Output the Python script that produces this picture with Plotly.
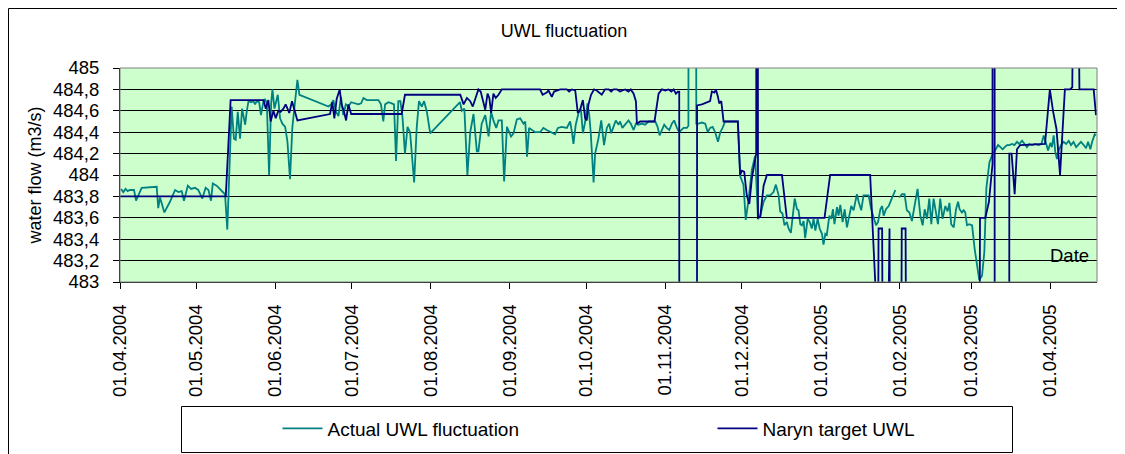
import pandas as pd
import plotly.graph_objects as go

START = pd.Timestamp("2004-04-01")

# ---- Actual UWL fluctuation: days since 01.04.2004 and level ----
actual_day = [
    0.4, 1.3, 2.2, 3.0, 3.9, 4.8, 5.5, 6.3, 7.2, 8.5, 14.4, 15.0, 15.7, 17.4, 19.6, 21.6, 22.9, 24.2,
    25.1, 26.6, 27.9, 29.4, 30.7, 32.3, 33.6, 34.7, 35.7, 36.4, 37.9, 39.6, 41.2, 42.1, 43.8, 44.7,
    45.4, 46.2, 47.1, 47.9, 49.1, 49.7, 50.4, 51.4, 52.3, 53.0, 53.6, 54.6, 55.3, 56.3, 56.9, 57.6,
    58.5, 59.3, 59.8, 60.6, 61.9, 62.8, 63.7, 64.8, 65.7, 66.7, 67.6, 68.7, 69.6, 70.4, 81.8, 82.8,
    83.7, 84.8, 85.7, 86.7, 87.6, 88.6, 89.6, 90.7, 92.2, 93.5, 94.6, 95.5, 96.8, 98.8, 101.4, 102.4,
    103.3, 104.0, 105.3, 106.6, 107.5, 108.3, 109.2, 110.0, 110.8, 111.8, 112.8, 113.8, 115.4, 116.4,
    117.3, 118.4, 119.3, 120.4, 121.7, 133.4, 134.1, 135.1, 136.3, 137.4, 138.7, 140.0, 140.6, 141.9,
    143.3, 144.6, 145.6, 146.5, 147.6, 148.5, 149.8, 150.7, 151.8, 152.7, 153.4, 154.4, 155.7, 157.0,
    158.3, 159.0, 159.7, 160.5, 161.5, 162.9, 164.8, 166.1, 167.4, 168.8, 170.7, 171.8, 173.3, 175.3,
    176.6, 177.3, 177.9, 178.8, 179.9, 180.8, 181.6, 182.5, 183.4, 184.1, 184.7, 185.8, 186.4, 187.7,
    188.8, 189.9, 191.0, 191.9, 192.7, 193.6, 194.5, 195.6, 196.2, 197.1, 198.2, 199.5, 200.4, 201.5,
    202.4, 203.4, 204.7, 206.0, 207.4, 208.7, 210.0, 210.9, 211.7, 212.6, 213.5, 214.5, 215.5, 216.5,
    217.4, 218.5, 219.4, 220.2, 221.1, 222.4, 223.0, 223.2, 225.8, 226.1, 227.0, 228.3, 229.6, 230.6,
    231.5, 232.5, 233.5, 234.6, 235.5, 236.4, 237.4, 242.4, 243.3, 244.6, 245.5, 246.6, 247.9, 249.2,
    250.3, 251.2, 252.5, 253.8, 255.1, 256.4, 257.3, 258.4, 259.0, 259.9, 260.7, 261.6, 262.3, 263.2,
    263.9, 264.7, 265.6, 266.2, 266.9, 267.5, 268.2, 268.8, 269.8, 270.6, 271.4, 272.1, 272.8, 273.7,
    274.5, 275.4, 276.0, 276.7, 277.3, 278.3, 279.1, 279.7, 280.3, 281.3, 281.9, 282.6, 283.5, 284.3,
    285.2, 285.8, 286.9, 287.8, 289.1, 289.8, 290.8, 291.7, 292.8, 293.7, 294.7, 295.7, 296.6, 297.4,
    298.3, 299.0, 299.6, 300.5, 301.6, 302.6, 304.2, 305.0, 305.7, 306.8, 307.8, 308.7, 309.7, 310.7,
    311.7, 312.9, 314.0, 314.9, 315.7, 316.6, 317.5, 318.3, 319.2, 320.1, 320.9, 321.8, 322.7, 323.8,
    324.7, 325.4, 326.1, 327.1, 328.0, 328.8, 329.4, 330.3, 331.0, 331.6, 332.3, 333.2, 334.3, 335.3,
    336.2, 337.1, 338.2, 339.1, 339.9, 340.5, 341.1, 342.1, 343.4, 344.5, 345.4, 346.3, 347.1, 348.0,
    348.9, 350.0, 350.9, 351.9, 352.8, 353.9, 354.9, 355.8, 356.7, 357.8, 359.1, 360.4, 361.5, 362.4,
    363.3, 364.1, 365.0, 365.6, 366.3, 366.9, 367.6, 368.3, 369.2, 370.2, 371.2, 372.2, 373.1, 374.1,
    375.1, 376.1, 377.0, 378.1, 379.0, 379.8, 380.7, 381.4, 382.4, 382.9,
]
actual_val = [
    483.87, 483.84, 483.87, 483.85, 483.86, 483.86, 483.86, 483.76, 483.81, 483.88, 483.89, 483.69,
    483.79, 483.65, 483.75, 483.86, 483.84, 483.85, 483.76, 483.90, 483.87, 483.88, 483.86, 483.78,
    483.88, 483.86, 483.76, 483.92, 483.90, 483.86, 483.82, 483.49, 484.64, 484.34, 484.33, 484.59,
    484.34, 484.62, 484.47, 484.59, 484.69, 484.68, 484.69, 484.66, 484.69, 484.68, 484.56, 484.69,
    484.71, 484.67, 484.00, 484.67, 484.80, 484.62, 484.75, 484.53, 484.48, 484.45, 484.31, 483.96,
    484.44, 484.69, 484.89, 484.75, 484.64, 484.66, 484.70, 484.59, 484.55, 484.73, 484.56, 484.66,
    484.64, 484.68, 484.67, 484.66, 484.67, 484.72, 484.70, 484.70, 484.70, 484.66, 484.50, 484.66,
    484.68, 484.67, 484.66, 484.13, 484.69, 484.69, 484.55, 484.20, 484.45, 484.40, 483.93, 484.44,
    484.69, 484.64, 484.69, 484.59, 484.39, 484.68, 484.60, 484.62, 484.00, 484.40, 484.57, 484.22,
    484.22, 484.48, 484.56, 484.36, 484.59, 484.51, 484.44, 484.51, 484.51, 483.94, 484.45, 484.40,
    484.36, 484.39, 484.52, 484.53, 484.48, 484.50, 484.17, 484.44, 484.42, 484.40, 484.40, 484.44,
    484.42, 484.40, 484.38, 484.44, 484.45, 484.44, 484.50, 484.40, 484.29, 484.47, 484.58, 484.62,
    484.39, 484.50, 484.67, 484.56, 484.39, 483.93, 484.20, 484.34, 484.51, 484.28, 484.44, 484.48,
    484.39, 484.45, 484.51, 484.47, 484.50, 484.44, 484.47, 484.51, 484.48, 484.42, 484.48, 484.47,
    484.48, 484.47, 484.50, 484.50, 484.50, 484.45, 484.37, 484.42, 484.47, 484.44, 484.42, 484.48,
    484.51, 484.44, 484.40, 484.42, 484.44, 484.44, 484.46, 490.0, 490.0, 484.48, 484.48, 484.49,
    484.48, 484.40, 484.44, 484.45, 484.40, 484.31, 484.40, 484.44, 484.50, 484.50, 483.99, 483.91,
    483.58, 483.77, 484.05, 484.18, 483.59, 483.62, 483.75, 483.81, 483.81, 483.84, 483.91, 483.81,
    483.66, 483.64, 483.53, 483.56, 483.50, 483.46, 483.62, 483.78, 483.68, 483.67, 483.54, 483.53,
    483.57, 483.41, 483.59, 483.56, 483.50, 483.59, 483.48, 483.59, 483.50, 483.45, 483.35, 483.45,
    483.44, 483.62, 483.59, 483.68, 483.54, 483.70, 483.62, 483.72, 483.56, 483.68, 483.51, 483.59,
    483.71, 483.67, 483.82, 483.75, 483.67, 483.81, 483.81, 483.81, 483.68, 483.61, 483.53, 483.56,
    483.68, 483.71, 483.62, 483.68, 483.71, 483.77, 483.86, None, 483.79, 483.82, 483.82, 483.67,
    483.65, 483.57, 483.71, 483.87, 483.62, 483.53, 483.68, 483.59, 483.78, 483.54, 483.78, 483.65,
    483.54, 483.78, 483.59, 483.71, 483.66, 483.74, 483.54, 483.51, 483.68, 483.75, 483.68, 483.65,
    483.67, 483.65, 483.53, 483.54, 483.53, 483.31, 483.16, 483.02, 483.06, 483.28, 483.88, 484.01,
    484.12, 484.18, 484.23, 484.28, 484.26, 484.24, 484.26, 484.28, 484.28, 484.29, 484.28, 484.31,
    484.29, 484.32, 484.29, 484.26, 484.29, 484.28, 484.29, 484.28, 484.29, 484.37, 484.30, 484.23,
    484.30, 484.26, 484.37, 484.22, 484.15, 484.23, 484.28, 484.31, 484.29, 484.32, 484.28, 484.31,
    484.26, 484.29, 484.31, 484.28, 484.25, 484.31, 484.24, 484.31, 484.38, 484.37,
]

# ---- Naryn target UWL ----
target_day = [
    0.0, 41.5, 43.4, 56.3, 57.2, 58.2, 59.1, 60.2, 61.1, 62.1, 63.0, 64.1, 65.0, 65.7, 66.4, 67.5,
    68.5, 69.6, 82.4, 83.3, 84.1, 85.0, 86.2, 86.9, 87.9, 88.7, 89.6, 90.7, 110.5, 111.8, 133.5, 134.8,
    136.1, 137.4, 138.4, 139.6, 140.6, 141.5, 142.3, 143.3, 144.2, 144.9, 145.6, 146.5, 147.4, 148.5,
    149.8, 164.8, 165.8, 167.4, 168.1, 169.4, 170.3, 172.7, 175.3, 176.2, 177.3, 178.6, 179.6, 180.5,
    181.6, 182.5, 183.1, 183.8, 184.8, 186.0, 187.0, 188.3, 189.0, 190.3, 191.7, 192.7, 193.6, 195.0,
    196.2, 197.1, 198.2, 199.5, 200.4, 201.5, 202.4, 202.8, 204.1, 209.7, 210.6, 211.3, 212.6, 213.9,
    215.2, 216.3, 217.2, 218.1, 218.9, 219.4, 219.6, 226.2, 226.4, 228.3, 231.5, 232.2, 233.2, 233.8,
    234.6, 235.1, 235.9, 236.8, 242.4, 243.3, 244.0, 244.9, 245.9, 246.9, 247.9, 249.0, 249.6, 249.8,
    250.1, 250.3, 251.2, 252.5, 253.8, 259.7, 261.6, 276.4, 278.6, 294.3, 296.5, 297.5, 297.6, 299.0,
    299.1, 301.6, 301.7, 301.9, 302.0, 306.6, 306.7, 308.2, 308.3, 337.3, 337.4, 339.5, 340.9, 341.9,
    342.3, 342.4, 343.1, 343.2, 348.8, 348.9, 349.8, 351.0, 351.9, 353.2, 362.9, 364.8, 366.1, 367.4,
    368.8, 370.7, 372.7, 373.6, 374.0, 376.0, 376.4, 382.0, 382.9,
]
target_val = [
    483.80, 483.80, 484.70, 484.70, 484.62, 484.70, 484.50, 484.60, 484.53, 484.60, 484.59, 484.62,
    484.66, 484.62, 484.58, 484.69, 484.59, 484.51, 484.57, 484.68, 484.53, 484.71, 484.80, 484.66,
    484.59, 484.51, 484.66, 484.57, 484.57, 484.75, 484.75, 484.66, 484.72, 484.69, 484.64, 484.72,
    484.80, 484.78, 484.69, 484.61, 484.76, 484.72, 484.58, 484.76, 484.72, 484.75, 484.80, 484.80,
    484.75, 484.77, 484.79, 484.73, 484.78, 484.80, 484.80, 484.78, 484.80, 484.79, 484.58, 484.61,
    484.70, 484.53, 484.51, 484.66, 484.75, 484.80, 484.79, 484.76, 484.75, 484.80, 484.80, 484.78,
    484.80, 484.80, 484.78, 484.79, 484.80, 484.78, 484.80, 484.76, 484.69, 484.48, 484.50, 484.50,
    484.66, 484.76, 484.80, 484.79, 484.80, 484.78, 484.80, 484.76, 484.78, 484.78, 470.0, 470.0,
    484.65, 484.66, 484.69, 484.78, 484.77, 484.80, 484.73, 484.67, 484.69, 484.50, 484.50, 484.00,
    484.04, 484.03, 483.81, 483.73, 483.97, 484.15, 484.20, 492.0, 492.0, 483.60, 483.61, 483.90,
    484.00, 484.00, 483.60, 483.60, 484.00, 484.00, 482.90, 482.90, 483.50, 483.50, 482.90, 482.90,
    483.50, 483.50, 482.90, 482.90, 483.50, 483.50, 482.90, 482.90, 483.60, 483.60, 483.75, 484.00,
    484.10, 492.0, 492.0, 475.0, 475.0, 484.20, 484.20, 483.82, 484.24, 484.28, 484.29, 484.80,
    484.59, 484.43, 484.00, 484.80, 484.80, 484.82, 486.0, 486.0, 484.80, 484.80, 484.56,
]

tick_dates = ["2004-04-01", "2004-05-01", "2004-06-01", "2004-07-01", "2004-08-01", "2004-09-01",
              "2004-10-01", "2004-11-01", "2004-12-01", "2005-01-01", "2005-02-01", "2005-03-01",
              "2005-04-01"]
tick_text = ["01.04.2004", "01.05.2004", "01.06.2004", "01.07.2004", "01.08.2004", "01.09.2004",
             "01.10.2004", "01.11.2004", "01.12.2004", "01.01.2005", "01.02.2005", "01.03.2005",
             "01.04.2005"]
y_ticks = [483.0, 483.2, 483.4, 483.6, 483.8, 484.0, 484.2, 484.4, 484.6, 484.8, 485.0]
y_text = ["483", "483,2", "483,4", "483,6", "483,8", "484", "484,2", "484,4", "484,6", "484,8", "485"]

FONT = "Liberation Sans, Arial, sans-serif"

# The page body has an 8 px margin, so the figure is drawn 8 px right/down.
OFF = 8
FIG_W, FIG_H = 1125 - OFF, 454 - OFF
# plot-area geometry in screen pixels (used only to place frame/legend/labels)
L, R, T, B = 120, 1097, 68, 282
PW, PH = R - L, B - T


def px_x(x):
    return (x - L) / PW


def px_y(y):
    return (B - y) / PH


def to_dates(days):
    return [START + pd.Timedelta(days=d) for d in days]


fig = go.Figure()
fig.add_trace(go.Scatter(x=to_dates(actual_day), y=actual_val, mode="lines",
                         name="Actual UWL fluctuation", connectgaps=False, legend="legend",
                         line=dict(color="#008080", width=1.8)))
fig.add_trace(go.Scatter(x=to_dates(target_day), y=target_val, mode="lines",
                         name="Naryn target UWL", legend="legend2",
                         line=dict(color="#000080", width=1.8)))

legend_common = dict(orientation="h", xanchor="left", yanchor="middle", yref="paper",
                     bgcolor="rgba(0,0,0,0)", borderwidth=0, itemwidth=40,
                     font=dict(size=19, family=FONT))

fig.update_layout(
    width=FIG_W, height=FIG_H,
    margin=dict(l=L - OFF, r=1125 - R, t=T - OFF, b=454 - B, autoexpand=False),
    paper_bgcolor="white",
    plot_bgcolor="#CCFFCC",
    font=dict(family=FONT, size=18, color="black"),
    title=dict(text="UWL fluctuation", x=(564 - OFF) / FIG_W, xref="container", xanchor="center",
               y=1 - (24 - OFF) / FIG_H, yref="container", yanchor="top",
               font=dict(size=18, family=FONT)),
    showlegend=True,
    legend=dict(x=px_x(277.5), y=px_y(428.5), **legend_common),
    legend2=dict(x=px_x(712.5), y=px_y(428.5), **legend_common),
    shapes=[
        dict(type="rect", xref="paper", yref="paper", x0=0, x1=1, y0=0, y1=1,
             line=dict(color="#808080", width=1), fillcolor="rgba(0,0,0,0)", layer="above"),
        dict(type="rect", xref="paper", yref="paper",
             x0=px_x(181.5), x1=px_x(1012.5), y0=px_y(452.5), y1=px_y(406.5),
             line=dict(color="black", width=1), fillcolor="rgba(0,0,0,0)"),
        dict(type="rect", xref="paper", yref="paper",
             x0=px_x(8.5), x1=px_x(1122.5), y0=px_y(470), y1=px_y(8.5),
             line=dict(color="black", width=1), fillcolor="rgba(0,0,0,0)"),
    ],
    annotations=[
        dict(text="Date", xref="paper", yref="paper", x=px_x(1069),
             y=px_y(255.5), showarrow=False, xanchor="center", yanchor="middle",
             font=dict(size=18.5, family=FONT)),
    ],
)

fig.update_xaxes(
    type="date",
    range=[START, START + pd.Timedelta(days=383.3)],
    tickvals=tick_dates, ticktext=tick_text, tickangle=-90,
    ticks="outside", ticklen=6, tickcolor="black", ticklabelstandoff=8,
    showgrid=False, showline=True, linecolor="black", linewidth=1,
    tickfont=dict(size=18.5, family=FONT), zeroline=False,
)
fig.update_yaxes(
    range=[483, 485], tickvals=y_ticks, ticktext=y_text,
    ticks="outside", ticklen=6, tickcolor="black", ticklabelstandoff=10,
    showgrid=True, gridcolor="black", gridwidth=1,
    showline=True, linecolor="black", linewidth=1, zeroline=False,
    tickfont=dict(size=18.5, family=FONT),
    title=dict(text="water flow (m3/s)", font=dict(size=18, family=FONT), standoff=6),
)

fig.write_html("out.html")
